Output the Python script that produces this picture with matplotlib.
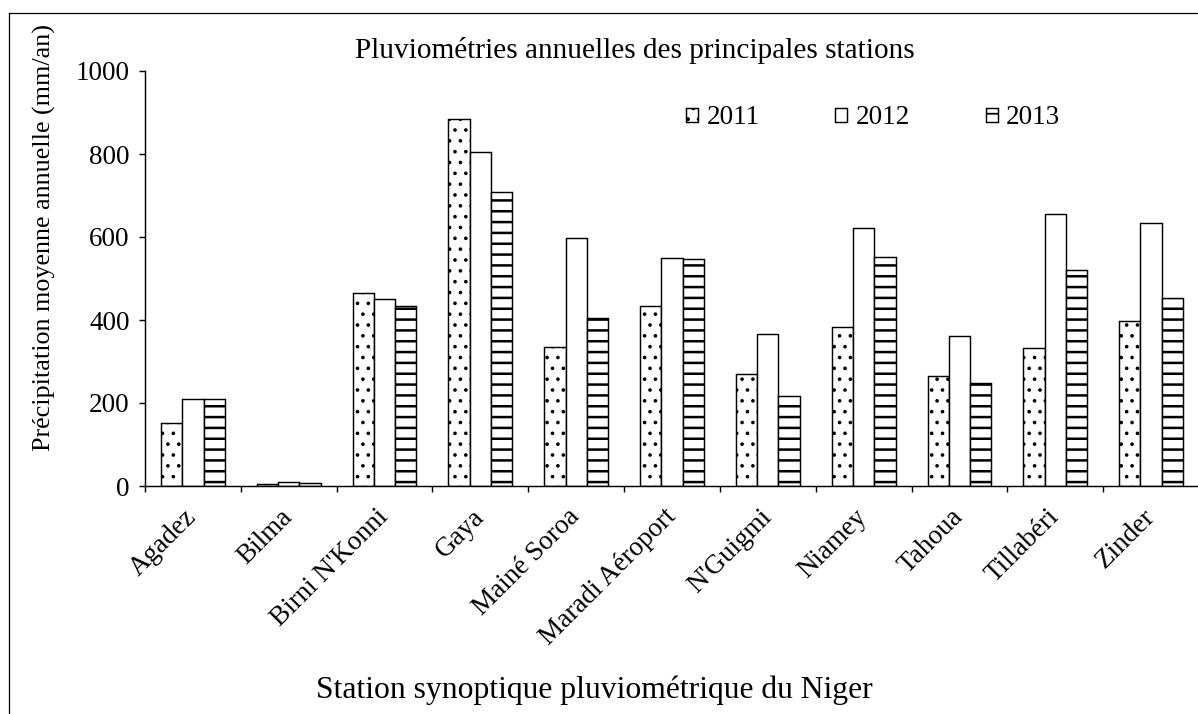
import matplotlib
matplotlib.use("Agg")
import matplotlib.pyplot as plt
import numpy as np
from matplotlib.lines import Line2D

plt.rcParams['font.family'] = ['Liberation Serif', 'DejaVu Serif']

stations = ["Agadez", "Bilma", "Birni N'Konni", "Gaya", "Mainé Soroa",
            "Maradi Aéroport", "N'Guigmi", "Niamey", "Tahoua", "Tillabéri", "Zinder"]
years = ["2011", "2012", "2013"]
rain_2011 = [152, 5, 465, 884, 336, 434, 271, 382, 266, 333, 397]
rain_2012 = [210, 9, 450, 805, 598, 549, 367, 622, 361, 655, 633]
rain_2013 = [210, 7, 434, 708, 406, 547, 217, 552, 247, 520, 452]
yticks = [0, 200, 400, 600, 800, 1000]

W, H = 1198, 714
DPI = 130
fig = plt.figure(figsize=(W / DPI, H / DPI), dpi=DPI)
ax = fig.add_axes([145 / W, (H - 486) / H, (1199 - 145) / W, (486 - 71) / H])

x = np.arange(len(stations))
bw = 0.222
series = [rain_2011, rain_2012, rain_2013]
hatches = ['..', '', '--']
hcolors = ['#4d4d4d', 'black', '#222222']
hwidths = [0.8, 1.0, 1.4]
for k, (vals, hat, lab) in enumerate(zip(series, hatches, years)):
    with plt.rc_context({'hatch.color': hcolors[k], 'hatch.linewidth': hwidths[k]}):
        ax.bar(x + (k - 1) * bw, vals, bw, facecolor='white', edgecolor='black',
               linewidth=0.8, hatch=hat, label=lab)

ax.set_xlim(-0.5, len(stations) - 0.5)
ax.set_ylim(0, 1000)
ax.set_yticks(yticks)
ax.set_yticklabels([str(v) for v in yticks])
ax.tick_params(axis='y', direction='out', length=3.5, width=0.8, labelsize=15, pad=5)

ax.set_xticks(x)
ax.set_xticklabels(stations, rotation=45, ha='right', va='center',
                   rotation_mode='anchor', fontsize=15)
ax.tick_params(axis='x', which='major', length=0, pad=15)
ax.set_xticks(np.arange(-0.5, len(stations) - 0.4, 1.0), minor=True)
ax.tick_params(axis='x', which='minor', direction='out', length=3.5, width=0.8)

for s in ['top', 'right']:
    ax.spines[s].set_visible(False)
for s in ['left', 'bottom']:
    ax.spines[s].set_linewidth(0.8)

fig.text(635 / W, 1 - 50 / H, "Pluviométries annuelles des principales stations",
         ha='center', va='center', fontsize=16.2)
fig.text(44 / W, 1 - 238 / H, "Précipitation moyenne annuelle (mm/an)",
         ha='center', va='center', rotation=90, fontsize=14.5)
fig.text(594 / W, 1 - 690 / H, "Station synoptique pluviométrique du Niger",
         ha='center', va='center', fontsize=17.5)

ax.legend(loc='center left', bbox_to_anchor=(686 / W, 1 - 118 / H),
          bbox_transform=fig.transFigure, ncol=3, frameon=False, fontsize=15,
          handlelength=0.45, handleheight=0.45, handletextpad=0.3,
          columnspacing=2.8, borderpad=0, borderaxespad=0)

fig.add_artist(Line2D([9 / W, 9 / W], [0, 1 - 13 / H], transform=fig.transFigure,
                      color='black', linewidth=0.7))
fig.add_artist(Line2D([9 / W, 1.0], [1 - 13 / H, 1 - 13 / H], transform=fig.transFigure,
                      color='black', linewidth=0.7))

fig.savefig("out.png", dpi=DPI)
